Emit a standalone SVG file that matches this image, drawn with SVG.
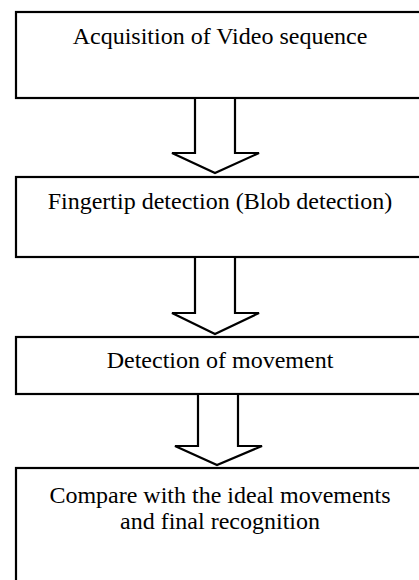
<svg xmlns="http://www.w3.org/2000/svg" width="419" height="580" viewBox="0 0 419 580">
  <style>
    .box { fill: #ffffff; stroke: #000000; stroke-width: 2.2; }
    .arrow { fill: #ffffff; stroke: #000000; stroke-width: 2.2; stroke-linejoin: miter; }
    .label { font-family: "Liberation Serif", "Times New Roman", serif; font-size: 24px; fill: #000000; text-anchor: middle; }
  </style>
  <rect width="419" height="580" fill="#ffffff"/>

  <g id="acquisition">
    <rect class="box" x="16" y="12" width="420" height="86"/>
    <text class="label" x="220" y="44">Acquisition of Video sequence</text>
  </g>

  <g id="fingertip">
    <rect class="box" x="16" y="177" width="420" height="80"/>
    <text class="label" x="220" y="209">Fingertip detection (Blob detection)</text>
  </g>

  <g id="movement">
    <rect class="box" x="16" y="337" width="420" height="57"/>
    <text class="label" x="220" y="368">Detection of movement</text>
  </g>

  <g id="recognition">
    <rect class="box" x="16" y="468" width="420" height="140"/>
    <text class="label" x="220" y="503">Compare with the ideal movements</text>
    <text class="label" x="220" y="529">and final recognition</text>
  </g>

  <g id="connectors">
    <polygon class="arrow" points="195,98 235,98 235,153 259,153 215,173 172,153 195,153"/>
    <polygon class="arrow" points="195,257 235,257 235,313 259,313 215,334 172,313 195,313"/>
    <polygon class="arrow" points="198,394 238,394 238,446 262,446 217,465 175,446 198,446"/>
  </g>
</svg>
